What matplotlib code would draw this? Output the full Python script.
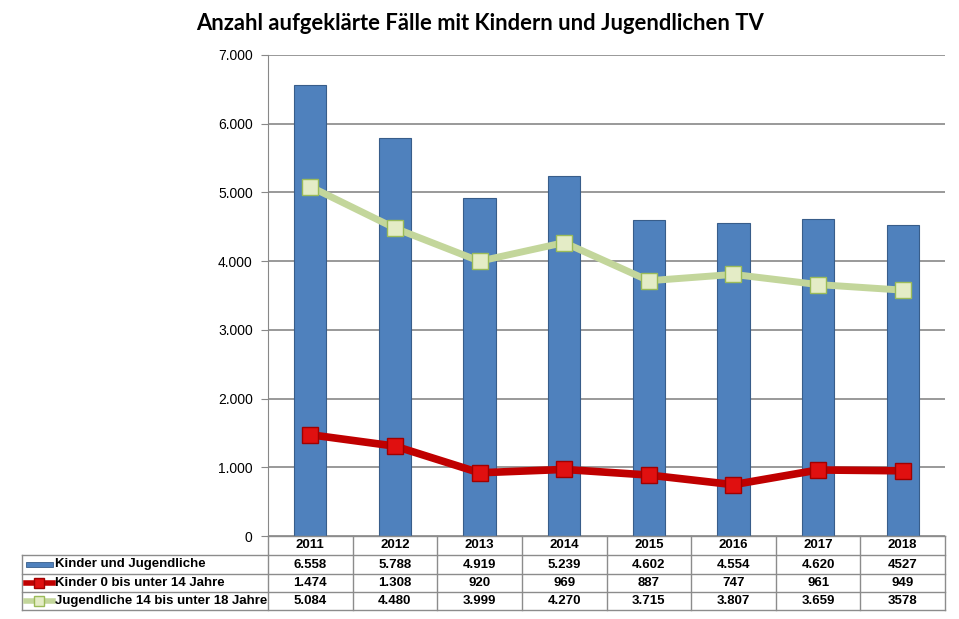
import numpy as np
import matplotlib.pyplot as plt
from matplotlib.ticker import FuncFormatter

# Daten
jahre = ['2011', '2012', '2013', '2014', '2015', '2016', '2017', '2018']
kinder_jugendliche = [6558, 5788, 4919, 5239, 4602, 4554, 4620, 4527]
kinder_0_14 = [1474, 1308, 920, 969, 887, 747, 961, 949]
jugendliche_14_18 = [5084, 4480, 3999, 4270, 3715, 3807, 3659, 3578]
tabellen_text = [
    ['6.558', '5.788', '4.919', '5.239', '4.602', '4.554', '4.620', '4527'],
    ['1.474', '1.308', '920', '969', '887', '747', '961', '949'],
    ['5.084', '4.480', '3.999', '4.270', '3.715', '3.807', '3.659', '3578'],
]
reihen = ['Kinder und Jugendliche', 'Kinder 0 bis unter 14 Jahre',
          'Jugendliche 14 bis unter 18 Jahre']

plt.rcParams['font.family'] = ['Liberation Sans', 'DejaVu Sans']

fig = plt.figure(figsize=(9.59, 6.19), dpi=100)
ax = fig.add_axes([268/959, 1-536/619, (945-268)/959, (536-55)/619])

x = np.arange(len(jahre))
ax.bar(x, kinder_jugendliche, width=0.38, color='#4F81BD', edgecolor='#385D8A',
       linewidth=0.8, zorder=2)
ax.plot(x, jugendliche_14_18, color='#C3D69B', lw=5, marker='s', ms=12,
        mfc='#E4ECC6', mec='#9BBB59', mew=1, zorder=3)
ax.plot(x, kinder_0_14, color='#C00000', lw=5.5, marker='s', ms=12,
        mfc='#E01010', mec='#A00000', mew=1, zorder=4)

ax.set_xlim(-0.5, len(jahre) - 0.5)
ax.set_ylim(0, 7000)
ax.set_yticks(range(0, 7001, 1000))
ax.yaxis.set_major_formatter(FuncFormatter(lambda v, p: f'{int(v):,}'.replace(',', '.')))
ax.tick_params(axis='y', length=5, color='#888888', labelsize=10, pad=6)
ax.set_xticks([])
ax.grid(axis='y', color='#888888', lw=1.2, zorder=0)
for s in ['top', 'right', 'bottom']:
    ax.spines[s].set_visible(False)
ax.spines['left'].set_color('#888888')

# Datentabelle (x in Datenkoordinaten, y in Achsenanteilen)
tr = ax.get_xaxis_transform()
h = 481.0
zeilen_y = [0, -19/h, -38/h, -56/h, -74/h]
x_links = -0.5 - 246 / 84.6
x_rechts = len(jahre) - 0.5
grau = '#8C8C8C'
kw = dict(transform=tr, clip_on=False, color=grau, lw=1)
fs = 9.5

# horizontale Linien
ax.plot([-0.5, x_rechts], [0, 0], **kw)
for yy in zeilen_y[1:]:
    ax.plot([x_links, x_rechts], [yy, yy], **kw)
# vertikale Linien
ax.plot([x_links, x_links], [zeilen_y[1], zeilen_y[-1]], **kw)
for i in range(len(jahre) + 1):
    ax.plot([i - 0.5, i - 0.5], [0, zeilen_y[-1]], **kw)

for i, j in enumerate(jahre):
    ax.text(i, (zeilen_y[0] + zeilen_y[1]) / 2, j, transform=tr, ha='center',
            va='center', fontsize=fs, fontweight='bold')
for r, zeile in enumerate(tabellen_text):
    ym = (zeilen_y[r + 1] + zeilen_y[r + 2]) / 2
    for i, t in enumerate(zeile):
        ax.text(i, ym, t, transform=tr, ha='center', va='center',
                fontsize=fs, fontweight='bold')
    ax.text(x_links + 33 / 84.6, ym, reihen[r], transform=tr, ha='left',
            va='center', fontsize=fs, fontweight='bold')

# Legendensymbole in der Tabelle
k0 = x_links + 4 / 84.6
k1 = x_links + 31 / 84.6
km = (k0 + k1) / 2
y1 = (zeilen_y[1] + zeilen_y[2]) / 2
y2 = (zeilen_y[2] + zeilen_y[3]) / 2
y3 = (zeilen_y[3] + zeilen_y[4]) / 2
ax.add_patch(plt.Rectangle((k0, y1 - 2.5/h), k1 - k0, 5/h, transform=tr, clip_on=False,
                           fc='#4F81BD', ec='#385D8A', lw=0.6))
ax.plot([k0, k1], [y2, y2], transform=tr, clip_on=False, color='#C00000', lw=4)
ax.plot([km], [y2], transform=tr, clip_on=False, marker='s', ms=7,
        mfc='#E01010', mec='#A00000')
ax.plot([k0, k1], [y3, y3], transform=tr, clip_on=False, color='#C3D69B', lw=4)
ax.plot([km], [y3], transform=tr, clip_on=False, marker='s', ms=7,
        mfc='#E4ECC6', mec='#9BBB59')

fig.text(480/959, 1 - 23/619, 'Anzahl aufgeklärte Fälle mit Kindern und Jugendlichen TV',
         ha='center', va='center', fontsize=15.8, fontweight='bold',
         family=['Lato', 'DejaVu Sans'])

fig.savefig('out.png', dpi=100)
